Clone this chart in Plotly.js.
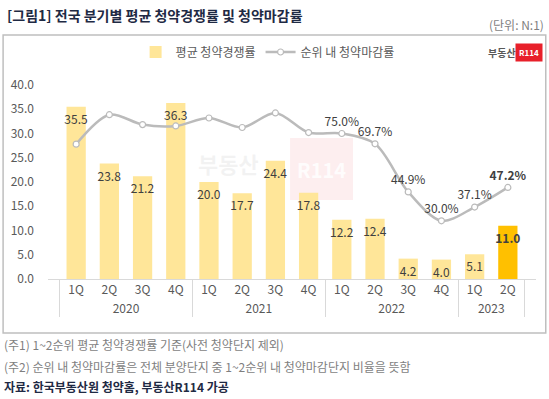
<!DOCTYPE html>
<html>
<head>
<meta charset="utf-8">
<script src="https://cdn.plot.ly/plotly-3.0.1.min.js"></script>
<style>html,body{margin:0;padding:0;background:#fff;}#chart{width:549px;height:399px;}</style>
</head>
<body>
<div id="chart"></div>
<script>
const years = ["2020","2020","2020","2020","2021","2021","2021","2021","2022","2022","2022","2022","2023","2023"];
const quarters = ["1Q","2Q","3Q","4Q","1Q","2Q","3Q","4Q","1Q","2Q","3Q","4Q","1Q","2Q"];
const competitionRate = [35.5, 23.8, 21.2, 36.3, 20.0, 17.7, 24.4, 17.8, 12.2, 12.4, 4.2, 4.0, 5.1, 11.0];
const closingRate = [69.5, 84.7, 79.6, 78.9, 83.0, 78.1, 85.6, 75.5, 75.0, 69.7, 44.9, 30.0, 37.1, 47.2];
const closingLabelShown = [false,false,false,false,false,false,false,false,true,true,true,true,true,true];
const yTicks = [0,5,10,15,20,25,30,35,40];

const FONT = "'Noto Sans CJK KR', 'Noto Sans', sans-serif";
const last = competitionRate.length - 1;

const barText = competitionRate.map((v,i)=> i===last ? '<b>'+v.toFixed(1)+'</b>' : v.toFixed(1));
const barColors = competitionRate.map((v,i)=> i===last ? '#FFC000' : '#FFE699');
const lineText = closingRate.map((v,i)=> closingLabelShown[i] ? (i===last ? '<b>'+v.toFixed(1)+'%</b>' : v.toFixed(1)+'%') : '');

const traces = [
  {
    type: 'bar',
    name: '평균 청약경쟁률',
    x: [years, quarters],
    y: competitionRate,
    width: 0.58,
    marker: {color: barColors},
    text: barText,
    textposition: 'inside',
    insidetextanchor: 'end',
    textangle: 0,
    constraintext: 'none',
    textfont: {family: FONT, size: 12, color: '#404040'},
    cliponaxis: false,
    hoverinfo: 'skip'
  },
  {
    type: 'scatter',
    name: '순위 내 청약마감률',
    x: [years, quarters],
    y: closingRate,
    yaxis: 'y2',
    mode: 'lines+markers+text',
    line: {color: '#BBBBBB', width: 2.5, shape: 'spline', smoothing: 0.9},
    marker: {size: 6, color: '#FFFFFF', line: {color: '#BBBBBB', width: 1.2}},
    text: lineText,
    textposition: 'top center',
    textfont: {family: FONT, size: 12, color: '#404040'},
    cliponaxis: false,
    hoverinfo: 'skip'
  }
];

const layout = {
  width: 549, height: 399,
  margin: {l: 48, r: 13, t: 85, b: 120},
  paper_bgcolor: '#FFFFFF', plot_bgcolor: 'rgba(0,0,0,0)',
  font: {family: FONT, size: 12, color: '#595959'},
  showlegend: true,
  legend: {orientation: 'h', x: 0.45, xanchor: 'center', y: 1.17, yanchor: 'middle',
           font: {family: FONT, size: 12, color: '#595959'}, traceorder: 'normal', itemwidth: 30},
  bargap: 0.3,
  xaxis: {
    type: 'multicategory',
    showline: true, linecolor: '#D9D9D9', linewidth: 1,
    showgrid: false, zeroline: false,
    showdividers: true, dividercolor: '#D9D9D9', dividerwidth: 1,
    tickfont: {family: FONT, size: 12, color: '#595959'},
    ticks: ''
  },
  yaxis: {
    range: [0, 40], tickvals: yTicks, tickformat: '.1f',
    showgrid: false, zeroline: false, showline: false,
    tickfont: {family: FONT, size: 12, color: '#595959'},
    ticklabelstandoff: 13
  },
  yaxis2: {
    range: [0, 100], overlaying: 'y', side: 'right', visible: false, showgrid: false
  },
  shapes: [
    {type: 'rect', xref: 'paper', yref: 'paper', x0: -0.092, x1: 1.02, y0: -0.278, y1: 1.258,
     line: {color: '#BFBFBF', width: 1.5}, fillcolor: 'rgba(0,0,0,0)', layer: 'below'},
    {type: 'rect', xref: 'paper', yref: 'paper', x0: 0.496, x1: 0.625, y0: 0.407, y1: 0.727,
     line: {width: 0}, fillcolor: 'rgba(240,90,100,0.10)', layer: 'below'}
  ],
  annotations: [
    {text: '<b>[그림1] 전국 분기별 평균 청약경쟁률 및 청약마감률</b>', xref: 'paper', yref: 'paper',
     x: -0.088, y: 1.36, xanchor: 'left', yanchor: 'middle', showarrow: false,
     font: {family: FONT, size: 14, color: '#1F2A44'}},
    {text: '(단위: N:1)', xref: 'paper', yref: 'paper', x: 1.02, y: 1.31, xanchor: 'right', yanchor: 'middle',
     showarrow: false, font: {family: FONT, size: 12, color: '#7F7F7F'}},
    {text: '(주1) 1~2순위 평균 청약경쟁률 기준(사전 청약단지 제외)', xref: 'paper', yref: 'paper',
     x: -0.094, y: -0.34, xanchor: 'left', yanchor: 'middle', showarrow: false,
     font: {family: FONT, size: 12, color: '#7F7F7F'}},
    {text: '(주2) 순위 내 청약마감률은 전체 분양단지 중 1~2순위 내 청약마감단지 비율을 뜻함', xref: 'paper', yref: 'paper',
     x: -0.094, y: -0.45, xanchor: 'left', yanchor: 'middle', showarrow: false,
     font: {family: FONT, size: 12, color: '#7F7F7F'}},
    {text: '<b>자료: 한국부동산원 청약홈, 부동산R114 가공</b>', xref: 'paper', yref: 'paper',
     x: -0.094, y: -0.555, xanchor: 'left', yanchor: 'middle', showarrow: false,
     font: {family: FONT, size: 12, color: '#1F2A44'}},
    {text: '<b>부동산</b>', xref: 'paper', yref: 'paper', x: 0.963, y: 1.165, xanchor: 'right', yanchor: 'middle',
     showarrow: false, font: {family: FONT, size: 10, color: '#595959'}},
    {text: '<b>R114</b>', xref: 'paper', yref: 'paper', x: 1.014, y: 1.165, xanchor: 'right', yanchor: 'middle',
     showarrow: false, bgcolor: '#E8202A', borderpad: 3, font: {family: FONT, size: 8, color: '#FFFFFF'}},
    {text: '<b>부동산</b>', xref: 'paper', yref: 'paper', x: 0.37, y: 0.6, xanchor: 'center', yanchor: 'middle',
     showarrow: false, font: {family: FONT, size: 22, color: 'rgba(200,200,200,0.22)'}},
    {text: '<b>R114</b>', xref: 'paper', yref: 'paper', x: 0.56, y: 0.567, xanchor: 'center', yanchor: 'middle',
     showarrow: false, font: {family: FONT, size: 20, color: 'rgba(255,255,255,0.85)'}}
  ]
};

Plotly.newPlot('chart', traces, layout, {displayModeBar: false, staticPlot: true});
</script>
</body>
</html>
